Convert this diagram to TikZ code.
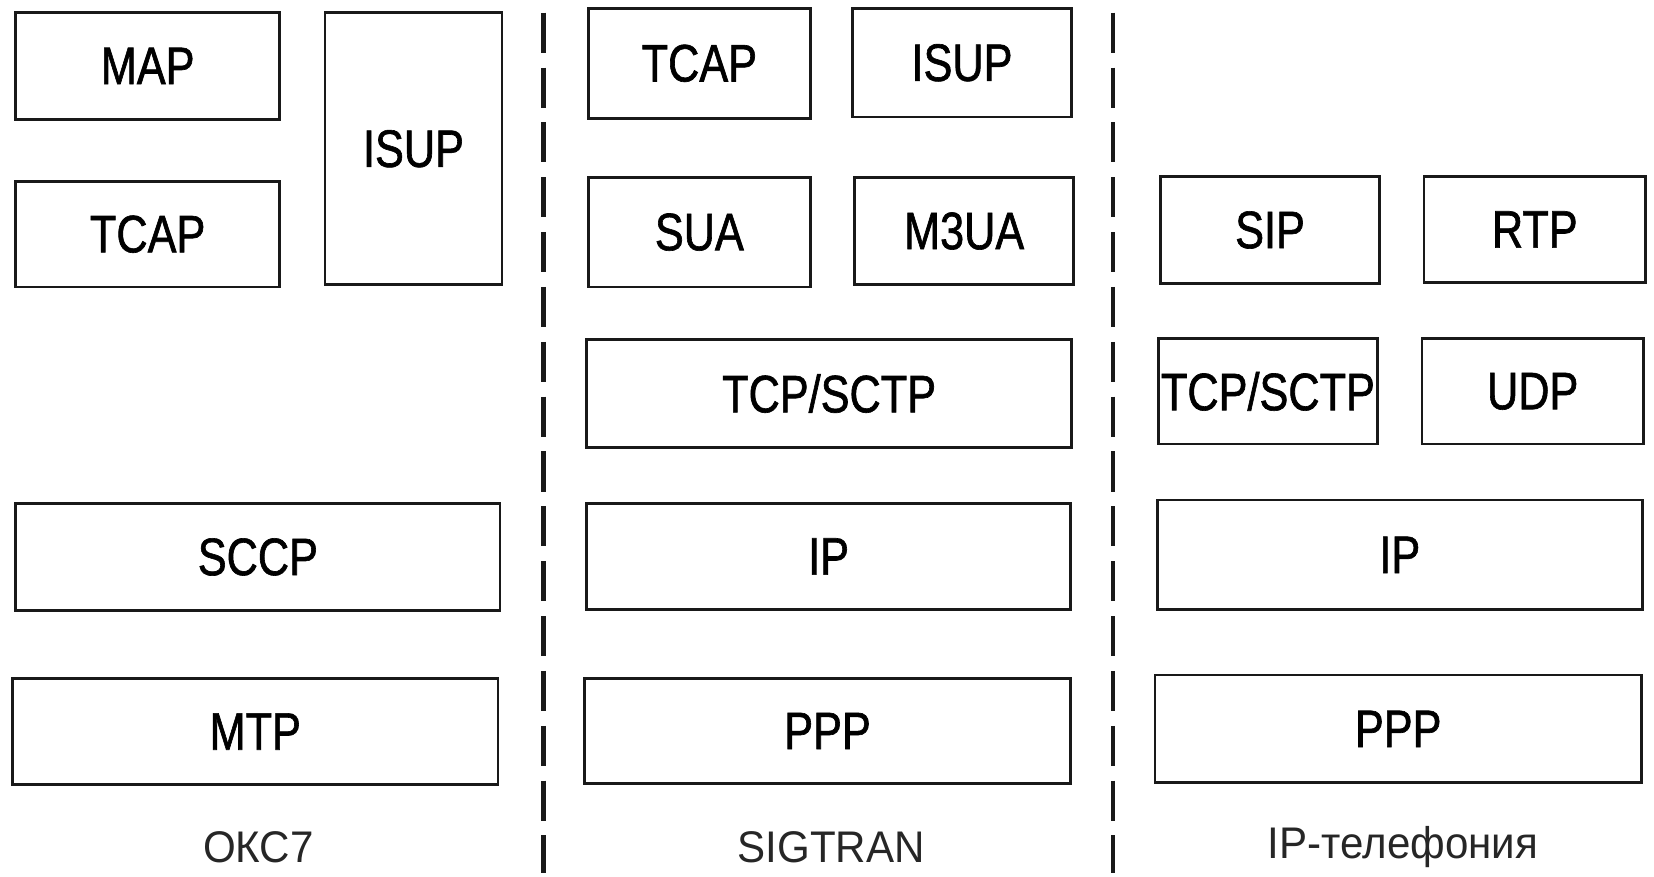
\documentclass[tikz,border=0pt]{standalone}
\usepackage{fontspec}
\setmainfont{Liberation Sans}[FakeStretch=0.82,FakeBold=1.2]
\newfontfamily\lblfont{Liberation Sans}[FakeStretch=0.95]
\begin{document}
\begin{tikzpicture}[x=1pt,y=-1pt,
  layer/.style={draw=black!90, line width=2.6pt, inner sep=0pt, outer sep=0pt,
    font=\fontsize{50}{56}\selectfont, text=black},
  stacklabel/.style={inner sep=0pt, font=\lblfont\fontsize{42}{48}\selectfont, text=black!85},
  divider/.style={line width=4.5pt, dash pattern=on 38pt off 14pt, black!90}]
\useasboundingbox (0,0) rectangle (1568,831);
% OKC7 column
\node[layer, minimum width=250pt, minimum height=101pt] (map) at (140,62.5) {MAP};
\node[layer, minimum width=250pt, minimum height=100pt] (tcapA) at (140,222) {TCAP};
\node[layer, minimum width=168pt, minimum height=258pt] (isupA) at (392,141) {ISUP};
\node[layer, minimum width=459pt, minimum height=102pt] (sccp) at (244.5,528) {SCCP};
\node[layer, minimum width=460pt, minimum height=101pt] (mtp) at (242,693.5) {MTP};
\node[stacklabel] (lblA) at (245,803) {ОКС7};
% SIGTRAN column
\node[layer, minimum width=210pt, minimum height=104pt] (tcapB) at (663,60) {TCAP};
\node[layer, minimum width=208pt, minimum height=103pt] (isupB) at (912,59.5) {ISUP};
\node[layer, minimum width=210pt, minimum height=104pt] (sua) at (663,220) {SUA};
\node[layer, minimum width=208pt, minimum height=102pt] (m3ua) at (914,219) {M3UA};
\node[layer, minimum width=460pt, minimum height=102pt] (tcpB) at (786,373) {TCP/SCTP};
\node[layer, minimum width=459pt, minimum height=101pt] (ipB) at (785.5,527.5) {IP};
\node[layer, minimum width=461pt, minimum height=100pt] (pppB) at (784.5,693) {PPP};
\node[stacklabel] (lblB) at (788,803) {SIGTRAN};
% IP telephony column
\node[layer, minimum width=208pt, minimum height=102pt] (sip) at (1204,218) {SIP};
\node[layer, minimum width=210pt, minimum height=101pt] (rtp) at (1455,217.5) {RTP};
\node[layer, minimum width=208pt, minimum height=100pt] (tcpC) at (1202,371) {TCP/SCTP};
\node[layer, minimum width=210pt, minimum height=100pt] (udp) at (1453,371) {UDP};
\node[layer, minimum width=460pt, minimum height=104pt] (ipC) at (1327,526) {IP};
\node[layer, minimum width=461pt, minimum height=102pt] (pppC) at (1325.5,691) {PPP};
\node[stacklabel] (lblC) at (1330,803) {IP-телефония};
% dividers
\coordinate (d1t) at (515,12);
\coordinate (d1b) at (515,828);
\coordinate (d2t) at (1055,12);
\coordinate (d2b) at (1055,828);
\draw[divider] (d1t) -- (d1b);
\draw[divider] (d2t) -- (d2b);
\end{tikzpicture}
\end{document}
